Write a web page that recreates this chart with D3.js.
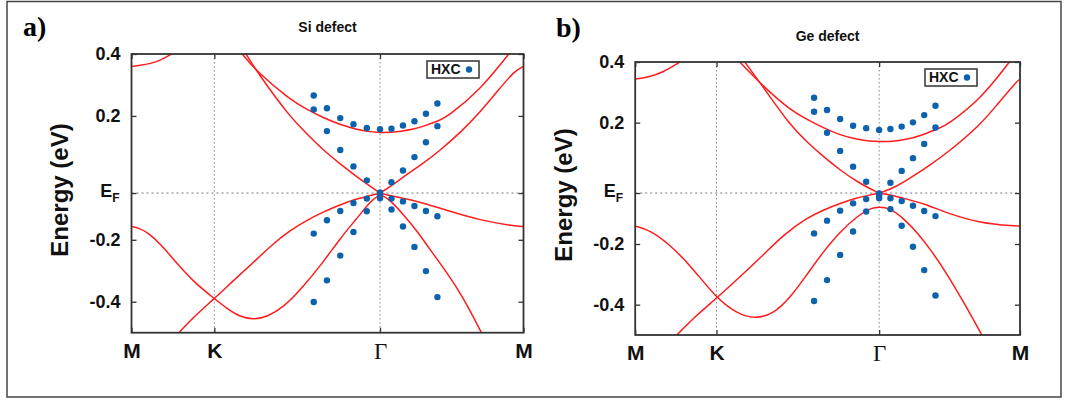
<!DOCTYPE html>
<html>
<head>
<meta charset="utf-8">
<script src="https://cdn.jsdelivr.net/npm/d3@7"></script>
<style>
  body { margin: 0; background: #fff; }
  svg { display: block; }
</style>
</head>
<body>
<svg id="fig" width="1068" height="403"></svg>
<script>
// ---- k-path M -> K -> Γ -> M of the hexagonal zone (|ΓM| = 1) ----
const kTicks = [0, 0.57735, 1.73205, 2.73205];
const kLabels = ["M", "K", "Γ", "M"];

// ---- energy axis (eV) ----
const yTickLabels = ["0.4", "0.2", "E_F", "-0.2", "-0.4"];
const siFermi = -0.049;
const geFermi = -0.032;
const siYTicks = [0.4, 0.2, siFermi, -0.2, -0.4];
const geYTicks = [0.4, 0.2, geFermi, -0.2, -0.4];

// ---- HXC model points: k positions and four energies per k ----
const hxcK = [1.270, 1.362, 1.455, 1.547, 1.640, 1.732, 1.812, 1.892, 1.972, 2.052, 2.132];
const siHXC = [
  [0.266, 0.221, -0.180, -0.401],
  [0.225, 0.151, -0.137, -0.331],
  [0.193, 0.090, -0.107, -0.251],
  [0.173, 0.037, -0.081, -0.175],
  [0.161, -0.008, -0.067, -0.108],
  [0.157, -0.047, -0.057, -0.066],
  [0.159, -0.014, -0.067, -0.102],
  [0.169, 0.024, -0.076, -0.157],
  [0.183, 0.067, -0.091, -0.223],
  [0.207, 0.115, -0.107, -0.301],
  [0.240, 0.167, -0.124, -0.385]
];
const geHXC = [
  [0.282, 0.236, -0.165, -0.388],
  [0.242, 0.167, -0.123, -0.319],
  [0.212, 0.107, -0.090, -0.236],
  [0.190, 0.055, -0.066, -0.159],
  [0.182, 0.005, -0.052, -0.093],
  [0.176, -0.033, -0.041, -0.049],
  [0.179, 0.002, -0.049, -0.085],
  [0.187, 0.041, -0.058, -0.140],
  [0.201, 0.083, -0.074, -0.209],
  [0.225, 0.130, -0.091, -0.286],
  [0.256, 0.184, -0.108, -0.370]
];

// ---- DFT bands, [k, E] pairs; each array is one drawn segment ----
const siBands = [
  // band near 0.36 eV at M (left end)
  [[0, 0.360], [0.061, 0.363], [0.131, 0.369], [0.201, 0.379], [0.282, 0.401]],
  // upper conduction band, minimum at Γ
  [[0.763, 0.405], [0.875, 0.342], [1.105, 0.253], [1.221, 0.221], [1.337, 0.194], [1.453, 0.172],
   [1.569, 0.156], [1.732, 0.143], [1.894, 0.151], [1.964, 0.157], [2.033, 0.166], [2.150, 0.186],
   [2.197, 0.196], [2.429, 0.283], [2.638, 0.405]],
  // lower conduction band, K-Γ side
  [[0.791, 0.405], [0.875, 0.342], [1.105, 0.196], [1.221, 0.143], [1.337, 0.089], [1.453, 0.046],
   [1.569, 0.003], [1.732, -0.049]],
  // lower conduction band, Γ-M side
  [[1.732, -0.049], [1.801, -0.029], [1.918, 0.011], [2.033, 0.047], [2.150, 0.088], [2.312, 0.155],
   [2.429, 0.212], [2.545, 0.277], [2.672, 0.347], [2.732, 0.360]],
  // valence band through the K crossing and the dip, then down along Γ-M
  [[0, -0.157], [0.061, -0.164], [0.108, -0.175], [0.201, -0.212], [0.317, -0.277], [0.433, -0.336],
   [0.577, -0.390], [0.666, -0.422], [0.758, -0.449], [0.852, -0.458], [0.944, -0.449], [1.061, -0.417],
   [1.176, -0.363], [1.337, -0.272], [1.453, -0.196], [1.569, -0.132], [1.662, -0.078], [1.732, -0.049],
   [1.801, -0.071], [1.894, -0.118], [1.988, -0.170], [2.080, -0.231], [2.197, -0.305], [2.312, -0.386],
   [2.440, -0.501]],
  // valence band rising from below through K to Γ
  [[0.329, -0.501], [0.433, -0.449], [0.577, -0.390], [0.712, -0.331], [0.852, -0.272], [0.991, -0.211],
   [1.105, -0.170], [1.221, -0.137], [1.337, -0.110], [1.453, -0.087], [1.569, -0.068], [1.662, -0.057],
   [1.732, -0.049]],
  // flat valence band along Γ-M
  [[1.732, -0.049], [1.801, -0.057], [1.918, -0.068], [2.033, -0.081], [2.197, -0.105], [2.429, -0.137],
   [2.672, -0.156], [2.732, -0.157]]
];

const geBands = [
  [[0, 0.344], [0.082, 0.348], [0.200, 0.366], [0.318, 0.400]],
  [[0.744, 0.399], [0.898, 0.324], [1.099, 0.242], [1.218, 0.211], [1.336, 0.183], [1.455, 0.159],
   [1.573, 0.145], [1.732, 0.135], [1.881, 0.141], [1.975, 0.150], [2.046, 0.161], [2.165, 0.183],
   [2.212, 0.192], [2.449, 0.275], [2.657, 0.400]],
  [[0.780, 0.399], [0.898, 0.324], [1.099, 0.192], [1.218, 0.137], [1.336, 0.088], [1.455, 0.044],
   [1.573, 0.005], [1.732, -0.033]],
  [[1.732, -0.033], [1.857, -0.011], [1.975, 0.024], [2.094, 0.061], [2.212, 0.099], [2.449, 0.192],
   [2.567, 0.258], [2.697, 0.330], [2.732, 0.344]],
  [[0, -0.141], [0.105, -0.154], [0.247, -0.203], [0.389, -0.269], [0.577, -0.379], [0.721, -0.429],
   [0.851, -0.447], [0.981, -0.431], [1.099, -0.378], [1.218, -0.302], [1.336, -0.225], [1.455, -0.159],
   [1.573, -0.110], [1.668, -0.082], [1.732, -0.077], [1.810, -0.082], [1.904, -0.115], [1.999, -0.160],
   [2.094, -0.216], [2.212, -0.297], [2.330, -0.390], [2.461, -0.500]],
  [[0.295, -0.500], [0.437, -0.434], [0.577, -0.379], [0.744, -0.308], [0.910, -0.236], [1.052, -0.170],
   [1.218, -0.114], [1.336, -0.088], [1.455, -0.066], [1.573, -0.048], [1.668, -0.038], [1.732, -0.033]],
  [[1.732, -0.033], [1.810, -0.038], [1.928, -0.052], [2.046, -0.066], [2.212, -0.098], [2.449, -0.131],
   [2.697, -0.141], [2.732, -0.141]]
];

const SANS = "'Liberation Sans', Arial, Helvetica, sans-serif";
const SERIF = "'Liberation Serif', 'Times New Roman', serif";
const svg = d3.select("#fig");

// outer frame of the figure
svg.append("rect")
  .attr("x", 7).attr("y", 1.5).attr("width", 1054).attr("height", 395.5)
  .attr("fill", "none").attr("stroke", "#444").attr("stroke-width", 1.5);

function drawPanel(cfg, bands, hxc, fermi, yTicks) {
  const x = d3.scaleLinear().domain([kTicks[0], kTicks[3]]).range([cfg.left, cfg.right]);
  const y = d3.scaleLinear().domain([-0.5, 0.4]).range([cfg.bottom, cfg.top]);
  const g = svg.append("g");

  g.append("clipPath").attr("id", cfg.id + "-clip")
    .append("rect")
    .attr("x", cfg.left).attr("y", cfg.top)
    .attr("width", cfg.right - cfg.left).attr("height", cfg.bottom - cfg.top);

  // dotted grid at K, Γ and the Fermi level
  g.selectAll(".vgrid").data(kTicks.slice(1, 3)).join("line")
    .attr("x1", d => x(d)).attr("x2", d => x(d))
    .attr("y1", cfg.top).attr("y2", cfg.bottom)
    .attr("stroke", "#8a8a8a").attr("stroke-width", 1).attr("stroke-dasharray", "1.5,2.5");
  g.append("line")
    .attr("x1", cfg.left).attr("x2", cfg.right)
    .attr("y1", y(fermi)).attr("y2", y(fermi))
    .attr("stroke", "#777").attr("stroke-width", 1).attr("stroke-dasharray", "2,3");

  // bands
  const line = d3.line().x(d => x(d[0])).y(d => y(d[1])).curve(d3.curveBasis);
  g.append("g").attr("clip-path", `url(#${cfg.id}-clip)`)
    .selectAll("path").data(bands).join("path")
    .attr("d", line)
    .attr("fill", "none").attr("stroke", "#ff1c1c").attr("stroke-width", 1.5);

  // HXC points
  const pts = hxcK.flatMap((k, i) => hxc[i].map(e => [k, e]));
  g.append("g").selectAll("circle").data(pts).join("circle")
    .attr("cx", d => x(d[0])).attr("cy", d => y(d[1])).attr("r", 3.2)
    .attr("fill", "#0d62ad");

  // axes
  const left = g.append("g").attr("transform", `translate(${cfg.left},0)`)
    .call(d3.axisLeft(y).tickValues(yTicks).tickSizeInner(-5).tickSizeOuter(0).tickPadding(11)
      .tickFormat((d, i) => yTickLabels[i]));
  g.append("g").attr("transform", `translate(${cfg.right},0)`)
    .call(d3.axisRight(y).tickValues(yTicks).tickSizeInner(-5).tickSizeOuter(0).tickFormat(() => ""));
  const bottom = g.append("g").attr("transform", `translate(0,${cfg.bottom})`)
    .call(d3.axisBottom(x).tickValues(kTicks).tickSizeInner(-5).tickSizeOuter(0).tickPadding(10)
      .tickFormat((d, i) => kLabels[i]));
  g.append("g").attr("transform", `translate(0,${cfg.top})`)
    .call(d3.axisTop(x).tickValues(kTicks).tickSizeInner(-5).tickSizeOuter(0).tickFormat(() => ""));

  g.selectAll(".domain").remove();
  g.selectAll(".tick line").attr("stroke", "#333").attr("stroke-width", 1.3);
  left.selectAll(".tick text")
    .attr("font-family", SANS).attr("font-weight", "bold").attr("font-size", 18).attr("fill", "#111");
  left.selectAll(".tick text").filter(function () { return d3.select(this).text() === "E_F"; })
    .each(function () {
      const t = d3.select(this);
      t.text("E").attr("dy", "0.2em").attr("dx", -1);
      t.append("tspan").attr("font-size", 12).attr("dy", 5).text("F");
    });
  bottom.selectAll(".tick text")
    .attr("font-family", SANS).attr("font-weight", "bold").attr("font-size", 21).attr("fill", "#111");
  bottom.selectAll(".tick text").filter(function () { return d3.select(this).text() === "Γ"; })
    .attr("font-family", SERIF).attr("font-weight", "normal").attr("font-size", 23);

  // plot border
  g.append("rect")
    .attr("x", cfg.left).attr("y", cfg.top)
    .attr("width", cfg.right - cfg.left).attr("height", cfg.bottom - cfg.top)
    .attr("fill", "none").attr("stroke", "#333").attr("stroke-width", 1.8);

  // legend
  const lg = g.append("g").attr("transform", `translate(${cfg.legX},${cfg.legY})`);
  lg.append("rect").attr("x", 0).attr("y", 0).attr("width", 52).attr("height", 17)
    .attr("fill", "#fff").attr("stroke", "#333").attr("stroke-width", 1.5);
  lg.append("text").attr("x", 4).attr("y", 13.2).text("HXC")
    .attr("font-family", SANS).attr("font-weight", "bold").attr("font-size", 14).attr("fill", "#111");
  lg.append("circle").attr("cx", 42).attr("cy", 8.5).attr("r", 3.2).attr("fill", "#0d62ad");

  // titles and labels
  g.append("text").attr("x", (cfg.left + cfg.right) / 2).attr("y", cfg.titleY)
    .attr("text-anchor", "middle").text(cfg.title)
    .attr("font-family", SANS).attr("font-weight", "bold").attr("font-size", 14).attr("fill", "#111");
  g.append("text").attr("x", cfg.tagX).attr("y", cfg.tagY).text(cfg.tag)
    .attr("font-family", SERIF).attr("font-weight", "bold").attr("font-size", 28).attr("fill", "#000");
  g.append("text")
    .attr("transform", `translate(${cfg.ylabX},${cfg.ylabY}) rotate(-90)`)
    .attr("text-anchor", "middle").text("Energy (eV)")
    .attr("font-family", SANS).attr("font-weight", "bold").attr("font-size", 24).attr("fill", "#111");
}

drawPanel({
  id: "si", left: 131.5, right: 523.5, top: 54, bottom: 332.7,
  title: "Si defect", titleY: 32, tag: "a)", tagX: 23, tagY: 36,
  ylabX: 68, ylabY: 190, legX: 427, legY: 61
}, siBands, siHXC, siFermi, siYTicks);

drawPanel({
  id: "ge", left: 635.2, right: 1020, top: 62, bottom: 335,
  title: "Ge defect", titleY: 41, tag: "b)", tagX: 556, tagY: 37,
  ylabX: 572, ylabY: 195, legX: 925, legY: 69
}, geBands, geHXC, geFermi, geYTicks);
</script>
</body>
</html>
